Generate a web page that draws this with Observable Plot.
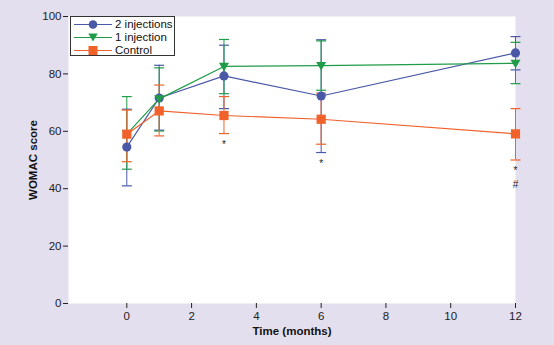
<!DOCTYPE html>
<html><head><meta charset="utf-8">
<script src="https://cdn.jsdelivr.net/npm/d3@7"></script>
<script src="https://cdn.jsdelivr.net/npm/@observablehq/plot@0.6"></script>
<style>
body{margin:0;background:#e4dfee;}
#wrap{position:relative;width:554px;height:345px;font-family:"Liberation Sans",Arial,sans-serif;}
#legend{position:absolute;left:70px;top:16px;width:105px;height:40px;background:#fff;border:1px solid #333;box-sizing:border-box;}
#legend div{display:flex;align-items:center;height:13px;font-size:11.5px;color:#111;line-height:13px;}
#legend svg{margin:0 2px 0 2px;}
</style></head><body><div id="wrap"><div id="legend"></div></div>
<script>
const months = [0, 1, 3, 6, 12];
const seriesNames = ["2 injections", "1 injection", "Control"];
const seriesColors = ["#4a58a8", "#1f9c48", "#f0622a"];

const twoInjMean = [54.5, 71.6, 79.3, 72.3, 87.3];
const twoInjLow  = [41.0, 60.4, 67.9, 52.6, 81.4];
const twoInjHigh = [67.7, 83.0, 90.0, 91.9, 93.0];

const oneInjMean = [59.0, 71.3, 82.6, 82.9, 83.7];
const oneInjLow  = [46.8, 60.1, 73.1, 74.3, 76.6];
const oneInjHigh = [72.1, 82.1, 92.0, 91.5, 91.0];

const controlMean = [59.0, 67.1, 65.5, 64.2, 59.1];
const controlLow  = [49.4, 58.4, 59.2, 55.5, 50.0];
const controlHigh = [67.4, 76.1, 72.1, 73.3, 67.9];

const yTicks = [0, 20, 40, 60, 80, 100];
const xTicks = [0, 2, 4, 6, 8, 10, 12];
const annotMonths = [3, 6, 12, 12];
const annotLabels = ["*", "*", "*", "#"];

const means = [twoInjMean, oneInjMean, controlMean];
const lows = [twoInjLow, oneInjLow, controlLow];
const highs = [twoInjHigh, oneInjHigh, controlHigh];

const data = [];
seriesNames.forEach((s, i) => months.forEach((m, j) => data.push({
  series: s, t: m, v: means[i][j], lo: lows[i][j], hi: highs[i][j]
})));

// annotations: placed under the lowest error bar at that time point
const annots = annotMonths.map((m, k) => {
  const minLo = d3.min(data.filter(d => d.t === m), d => d.lo);
  const idx = annotMonths.slice(0, k).filter(x => x === m).length;
  return {t: m, v: minLo, label: annotLabels[k], idx};
});

const capSymbol = {draw(ctx) { ctx.moveTo(-5, 0); ctx.lineTo(5, 0); }};
const triDown = {draw(ctx) { ctx.moveTo(-5, -3.6); ctx.lineTo(5, -3.6); ctx.lineTo(0, 5); ctx.closePath(); }};
const seriesSymbols = ["circle", triDown, "square"];

const marks = [Plot.frame({fill: "white", stroke: null})];

seriesNames.forEach((s, i) => {
  const sd = data.filter(d => d.series === s);
  marks.push(Plot.ruleX(sd, {x: "t", y1: "lo", y2: "hi", stroke: seriesColors[i], strokeWidth: 1}));
  marks.push(Plot.dot(sd, {x: "t", y: "lo", symbol: capSymbol, stroke: seriesColors[i], strokeWidth: 1.2, fill: "none"}));
  marks.push(Plot.dot(sd, {x: "t", y: "hi", symbol: capSymbol, stroke: seriesColors[i], strokeWidth: 1.2, fill: "none"}));
});
seriesNames.forEach((s, i) => {
  const sd = data.filter(d => d.series === s);
  marks.push(Plot.line(sd, {x: "t", y: "v", stroke: seriesColors[i], strokeWidth: 1.2}));
});
seriesNames.forEach((s, i) => {
  const sd = data.filter(d => d.series === s);
  marks.push(Plot.dot(sd, {x: "t", y: "v", symbol: seriesSymbols[i], fill: seriesColors[i], stroke: "none", r: i === 2 ? 5.2 : 4.6}));
});
marks.push(Plot.text(annots.filter(a => a.idx === 0), {x: "t", y: "v", text: "label", dy: 11, fontSize: 10, fill: "#222"}));
marks.push(Plot.text(annots.filter(a => a.idx === 1), {x: "t", y: "v", text: "label", dy: 25, fontSize: 10, fill: "#222"}));

marks.push(Plot.axisY({ticks: yTicks, tickSize: 5, tickPadding: 2, line: true, label: "WOMAC score", labelAnchor: "center", labelArrow: "none", labelOffset: 40, fontSize: 11.5}));
marks.push(Plot.axisX({ticks: xTicks, tickSize: 5, tickPadding: 3, line: true, label: "Time (months)", labelAnchor: "center", labelArrow: "none", labelOffset: 31, fontSize: 11.5}));

const chart = Plot.plot({
  width: 554, height: 345,
  marginLeft: 68, marginRight: 39, marginTop: 16, marginBottom: 42,
  style: {background: "#e4dfee", fontFamily: "'Liberation Sans', Arial, sans-serif", color: "#222"},
  x: {domain: [-1.8, 12]},
  y: {domain: [0, 100]},
  marks
});
chart.querySelectorAll("[aria-label='y-axis label'] text, [aria-label='x-axis label'] text").forEach(t => { t.style.fontWeight = "bold"; t.setAttribute("fill", "#111"); });
document.getElementById("wrap").appendChild(chart);

// legend
const leg = document.getElementById("legend");
seriesNames.forEach((s, i) => {
  const row = document.createElement("div");
  const c = seriesColors[i];
  let sym;
  if (i === 0) sym = `<circle cx="20" cy="6.5" r="4.3" fill="${c}"/>`;
  else if (i === 1) sym = `<path d="M15.3,2.5 L24.7,2.5 L20,10.5 Z" fill="${c}"/>`;
  else sym = `<rect x="15.5" y="2" width="9" height="9" fill="${c}"/>`;
  row.innerHTML = `<svg width="40" height="13"><line x1="1" y1="6.5" x2="39" y2="6.5" stroke="${c}" stroke-width="1.2"/>${sym}</svg><span>${s}</span>`;
  leg.appendChild(row);
});
leg.style.paddingTop = "1px";
</script></body></html>
